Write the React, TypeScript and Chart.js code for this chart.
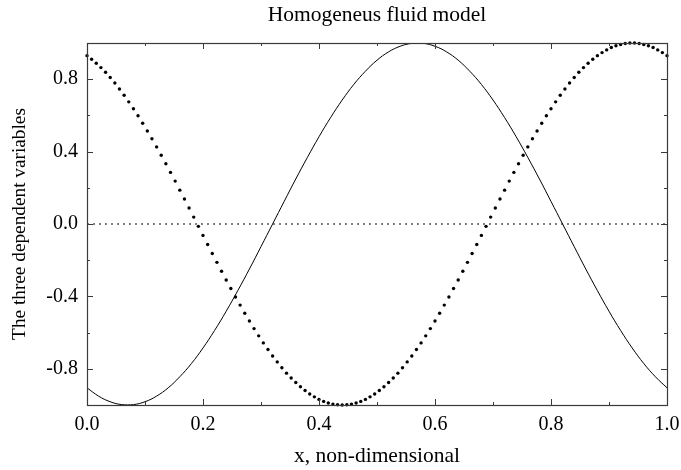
import React, { useEffect, useRef } from "react";
import { Chart, registerables } from "chart.js";

Chart.register(...registerables);

const TITLE = "Homogeneus fluid model";
const X_LABEL = "x, non-dimensional";
const Y_LABEL = "The three dependent variables";

// x-axis ticks
const X_MAJOR = [0, 0.2, 0.4, 0.6, 0.8, 1.0];
const X_MINOR = [0.1, 0.3, 0.5, 0.7, 0.9];
// y-axis ticks
const Y_MAJOR = [-0.8, -0.4, 0, 0.4, 0.8];
const Y_MINOR = [-0.6, -0.2, 0.2, 0.6];

// solid curve, sampled every 0.02 in x
const SOLID_STEP = 0.02;
const solidY = [
  -0.905, -0.951, -0.982, -0.998, -0.998, -0.982, -0.951, -0.905, -0.844, -0.771,
  -0.685, -0.588, -0.482, -0.368, -0.249, -0.125, 0.0, 0.125, 0.249, 0.368,
  0.482, 0.588, 0.685, 0.771, 0.844, 0.905, 0.951, 0.982, 0.998, 0.998,
  0.982, 0.951, 0.905, 0.844, 0.771, 0.685, 0.588, 0.482, 0.368, 0.249,
  0.125, 0.0, -0.125, -0.249, -0.368, -0.482, -0.588, -0.685, -0.771, -0.844,
  -0.905,
];

// dotted curve, sampled every 0.008 in x
const DOT_STEP = 0.008;
const dottedY = [
  0.93, 0.91, 0.888, 0.864, 0.838, 0.809, 0.779, 0.746, 0.711, 0.675,
  0.637, 0.598, 0.557, 0.514, 0.471, 0.426, 0.38, 0.333, 0.285, 0.237,
  0.187, 0.138, 0.088, 0.038, -0.013, -0.063, -0.113, -0.163, -0.212, -0.261,
  -0.309, -0.356, -0.403, -0.448, -0.493, -0.536, -0.578, -0.618, -0.657, -0.693,
  -0.729, -0.762, -0.794, -0.824, -0.851, -0.876, -0.899, -0.92, -0.939, -0.955,
  -0.969, -0.98, -0.989, -0.995, -0.999, -1.0, -0.999, -0.995, -0.989, -0.98,
  -0.969, -0.955, -0.939, -0.92, -0.899, -0.876, -0.851, -0.824, -0.794, -0.762,
  -0.729, -0.693, -0.657, -0.618, -0.578, -0.536, -0.493, -0.448, -0.403, -0.356,
  -0.309, -0.261, -0.212, -0.163, -0.113, -0.063, -0.013, 0.038, 0.088, 0.138,
  0.187, 0.237, 0.285, 0.333, 0.38, 0.426, 0.471, 0.514, 0.557, 0.598,
  0.637, 0.675, 0.711, 0.746, 0.779, 0.809, 0.838, 0.864, 0.888, 0.91,
  0.93, 0.947, 0.962, 0.975, 0.985, 0.992, 0.997, 1.0, 1.0, 0.997,
  0.992, 0.985, 0.975, 0.962, 0.947, 0.93,
];

// zero reference line
const zeroLineX = [0, 1];
const zeroLineY = [0, 0];

const FONT = "'Liberation Serif', 'Times New Roman', serif";

const framePlugin = {
  id: "frameTicks",
  afterDatasetsDraw(chart: any) {
    const { ctx, chartArea, scales } = chart;
    const { left, right, top, bottom } = chartArea;
    const xs = scales.x;
    const ys = scales.y;
    ctx.save();
    // title, centred over the plot area
    ctx.fillStyle = "#000";
    ctx.font = `normal 21.5px ${FONT}`;
    ctx.textAlign = "center";
    ctx.textBaseline = "alphabetic";
    ctx.fillText(TITLE, (left + right) / 2, 21);

    ctx.strokeStyle = "#3a3a3a";
    ctx.lineWidth = 1;
    ctx.beginPath();
    const tick = (arr: number[], len: number) => {
      arr.forEach((v) => {
        const px = Math.round(xs.getPixelForValue(v)) + 0.5;
        ctx.moveTo(px, bottom);
        ctx.lineTo(px, bottom - len);
        ctx.moveTo(px, top);
        ctx.lineTo(px, top + len);
      });
    };
    const ytick = (arr: number[], len: number) => {
      arr.forEach((v) => {
        const py = Math.round(ys.getPixelForValue(v)) + 0.5;
        ctx.moveTo(left, py);
        ctx.lineTo(left + len, py);
        ctx.moveTo(right, py);
        ctx.lineTo(right - len, py);
      });
    };
    tick(X_MAJOR, 6);
    tick(X_MINOR, 3);
    ytick(Y_MAJOR, 6);
    ytick(Y_MINOR, 3);
    ctx.stroke();
    ctx.lineWidth = 1.2;
    ctx.strokeRect(Math.round(left) + 0.5, Math.round(top) + 0.5, Math.round(right - left), Math.round(bottom - top));
    ctx.restore();
  },
};

export default function App() {
  const ref = useRef<HTMLCanvasElement | null>(null);

  useEffect(() => {
    if (!ref.current) return;
    const chart = new Chart(ref.current, {
      type: "line",
      data: {
        datasets: [
          {
            label: "zero",
            data: zeroLineX.map((x, i) => ({ x, y: zeroLineY[i] })),
            borderColor: "#000",
            borderWidth: 1,
            borderDash: [2, 4],
            pointRadius: 0,
            fill: false,
          },
          {
            label: "solid",
            data: solidY.map((y, i) => ({ x: i * SOLID_STEP, y })),
            borderColor: "#000",
            borderWidth: 1,
            pointRadius: 0,
            tension: 0.4,
            fill: false,
          },
          {
            label: "dotted",
            data: dottedY.map((y, i) => ({ x: i * DOT_STEP, y })),
            showLine: false,
            pointRadius: 1.7,
            pointBorderWidth: 0,
            pointBackgroundColor: "#000",
            borderColor: "#000",
            clip: false as any,
          },
        ],
      },
      options: {
        animation: false,
        responsive: false,
        devicePixelRatio: 1,
        layout: { padding: { left: 0, right: 14, top: 43, bottom: 0 } },
        plugins: {
          legend: { display: false },
          tooltip: { enabled: false },
          title: { display: false },
        },
        scales: {
          x: {
            type: "linear",
            min: 0,
            max: 1,
            grid: { display: false, drawTicks: false },
            border: { display: false },
            afterBuildTicks: (s: any) => {
              s.ticks = X_MAJOR.map((v) => ({ value: v }));
            },
            afterFit: (s: any) => {
              s.height = 65;
              s.paddingLeft = 0;
              s.paddingRight = 0;
            },
            ticks: {
              color: "#000",
              padding: 8,
              maxRotation: 0,
              font: { family: FONT, size: 20 },
              callback: (v: any) => Number(v).toFixed(1),
            },
            title: {
              display: true,
              text: X_LABEL,
              color: "#000",
              font: { family: FONT, size: 21.5 },
              padding: { top: 0, bottom: 1 },
            },
          },
          y: {
            type: "linear",
            min: -1,
            max: 1,
            grid: { display: false, drawTicks: false },
            border: { display: false },
            afterBuildTicks: (s: any) => {
              s.ticks = Y_MAJOR.map((v) => ({ value: v }));
            },
            afterFit: (s: any) => {
              s.width = 87;
              s.paddingTop = 0;
              s.paddingBottom = 0;
            },
            ticks: {
              color: "#000",
              padding: 9,
              font: { family: FONT, size: 20 },
              callback: (v: any) => Number(v).toFixed(1),
            },
            title: {
              display: true,
              text: Y_LABEL,
              color: "#000",
              font: { family: FONT, size: 19.3 },
              padding: { top: 8, bottom: 0 },
            },
          },
        },
      },
      plugins: [framePlugin],
    });
    return () => chart.destroy();
  }, []);

  return (
    <div style={{ position: "absolute", left: 0, top: 0, width: 681, height: 470, background: "#fff" }}>
      <canvas ref={ref} width={681} height={470} style={{ width: 681, height: 470 }} />
    </div>
  );
}
